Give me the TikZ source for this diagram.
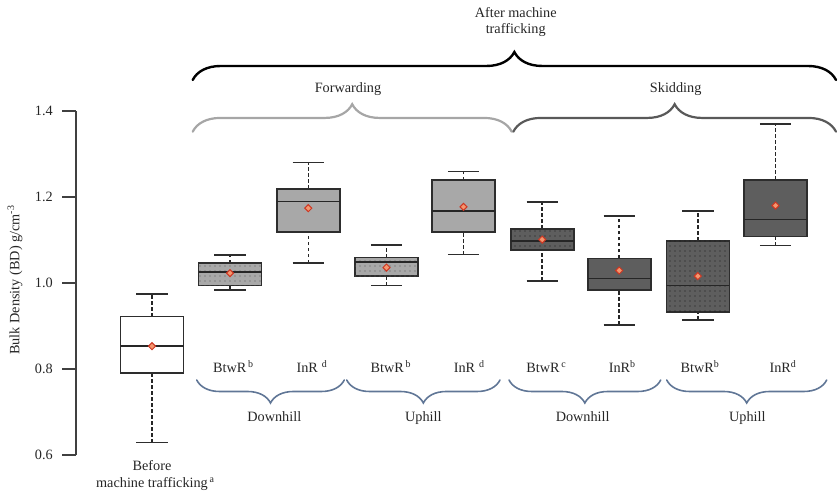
\documentclass[tikz,border=0pt]{standalone}
\usepackage{fontspec}
\setmainfont{Liberation Serif}
\usepackage{tikz}
\usetikzlibrary{shapes.geometric,decorations.pathreplacing,patterns.meta}

\definecolor{boxlight}{RGB}{168,168,168}
\definecolor{boxdark}{RGB}{94,94,94}
\definecolor{edgegray}{RGB}{45,45,45}
\definecolor{bracesteel}{RGB}{96,118,150}
\definecolor{meanred}{RGB}{205,55,35}
\definecolor{meanfill}{RGB}{245,150,110}

% box plot: name, x, min, q1, median, q3, max, mean, box style
\newcommand{\bplot}[9]{%
  \draw[whisker] (#2,#6) -- (#2,#7);
  \draw[whisker] (#2,#3) -- (#2,#4);
  \draw[wcap] (#2-15.7,#7) -- (#2+15.7,#7);
  \draw[wcap] (#2-15.7,#3) -- (#2+15.7,#3);
  \draw[#9] (#2-31.5,#4) rectangle (#2+31.5,#6);
  \draw[median] (#2-31.5,#5) -- (#2+31.5,#5);
  \node[meanmark] (#1) at (#2,#8) {};
}

\begin{document}
\begin{tikzpicture}[
    x=1bp, y=1bp,
    font=\fontsize{14.3}{16}\selectfont, text=black!85,
    whitebx/.style={draw=edgegray, fill=white, line width=1.6bp},
    lightbx/.style={draw=edgegray, fill=boxlight, line width=1.6bp},
    darkbx/.style={draw=edgegray, fill=boxdark, line width=1.6bp},
    lightdots/.style={lightbx, postaction={pattern={Dots[distance=5bp, radius=0.7bp]}, pattern color=black!65}},
    darkdots/.style={darkbx, postaction={pattern={Dots[distance=5bp, radius=0.7bp]}, pattern color=black!90}},
    whisker/.style={draw=black!85, line width=1.5bp, dash pattern=on 3.5bp off 2.5bp},
    wcap/.style={draw=edgegray, line width=1.6bp},
    median/.style={draw=black!85, line width=1.5bp},
    meanmark/.style={diamond, draw=meanred, fill=meanfill, line width=1bp, inner sep=0pt, minimum size=7.5bp},
    bigbrace/.style={decorate, decoration={brace, amplitude=28bp}, line width=2.4bp, line cap=round},
    midbrace/.style={decorate, decoration={brace, amplitude=27.5bp}, line width=2.2bp, line cap=round},
    lowbrace/.style={decorate, decoration={brace, mirror, amplitude=23bp}, draw=bracesteel, line width=1.6bp, line cap=round},
    grplabel/.style={anchor=base}
]
    \useasboundingbox (0,0) rectangle (838,491);

    % Top braces
    \draw[bigbrace, draw=black] (192.7,411) -- (836,411);
    \node (after) at (515.7,469) [align=center] {After machine\\trafficking};
    \draw[midbrace, draw=black!35] (192.7,359.3) -- (511.7,359.3);
    \draw[midbrace, draw=black!65] (513.3,359.3) -- (836,359.3);
    \node (fwd) at (348,402) {Forwarding};
    \node (skid) at (675.7,402) {Skidding};

    % Axis and boxes (data units)
    \begin{scope}[y=430bp, yshift=-222bp]
        \draw[draw=black!75, line width=1.2bp] (76,0.6) -- (76,1.4);
        \foreach \v in {0.6,0.8,1.0,1.2,1.4} {
            \draw[draw=black!75, line width=1.2bp] (62,\v) -- (76,\v);
            \node[anchor=east, inner sep=0pt] at (53,\v) {\v};
        }

        \bplot{before}{152}{0.629}{0.791}{0.853}{0.922}{0.974}{0.853}{whitebx}
        \bplot{fdbtw}{230}{0.984}{0.994}{1.025}{1.046}{1.065}{1.023}{lightdots}
        \bplot{fdinr}{308.3}{1.046}{1.118}{1.189}{1.219}{1.280}{1.174}{lightbx}
        \bplot{fubtw}{386.5}{0.994}{1.016}{1.049}{1.059}{1.088}{1.036}{lightdots}
        \bplot{fuinr}{463.5}{1.066}{1.118}{1.167}{1.239}{1.259}{1.177}{lightbx}
        \bplot{sdbtw}{542.2}{1.005}{1.077}{1.098}{1.126}{1.189}{1.101}{darkdots}
        \bplot{sdinr}{619.2}{0.903}{0.984}{1.011}{1.057}{1.156}{1.029}{darkbx}
        \bplot{subtw}{697.8}{0.914}{0.933}{0.994}{1.098}{1.167}{1.016}{darkdots}
        \bplot{suinr}{775.5}{1.087}{1.108}{1.148}{1.240}{1.370}{1.180}{darkbx}
    \end{scope}

    \node[rotate=90] (ylab) at (15,211) {Bulk Density (BD) g/cm\textsuperscript{-3}};

    % Group labels below
    \node[grplabel] (l1) at (233.3,118.5) {BtwR\textsuperscript{\,b}};
    \node[grplabel] (l2) at (312,118.5) {InR\,\textsuperscript{\,d}};
    \node[grplabel] (l3) at (390.8,118.5) {BtwR\textsuperscript{\,b}};
    \node[grplabel] (l4) at (469.2,118.5) {InR\,\textsuperscript{\,d}};
    \node[grplabel] (l5) at (546.3,118.5) {BtwR\textsuperscript{\,c}};
    \node[grplabel] (l6) at (622.2,118.5) {InR\textsuperscript{b}};
    \node[grplabel] (l7) at (700,118.5) {BtwR\textsuperscript{b}};
    \node[grplabel] (l8) at (783,118.5) {InR\textsuperscript{d}};

    \draw[lowbrace] (196.7,111) -- (344.3,111);
    \draw[lowbrace] (346.7,111) -- (500,111);
    \draw[lowbrace] (509,111) -- (660.7,111);
    \draw[lowbrace] (666.7,111) -- (826.7,111);

    \node[grplabel] (down1) at (274.3,69.3) {Downhill};
    \node[grplabel] (up1) at (423.3,69.3) {Uphill};
    \node[grplabel] (down2) at (582.7,69.3) {Downhill};
    \node[grplabel] (up2) at (747.3,69.3) {Uphill};

    \node[align=center, font=\fontsize{14.3}{17}\selectfont] (pre) at (152,15.2) {Before\\machine trafficking\rlap{\textsuperscript{\,a}}};
\end{tikzpicture}
\end{document}
